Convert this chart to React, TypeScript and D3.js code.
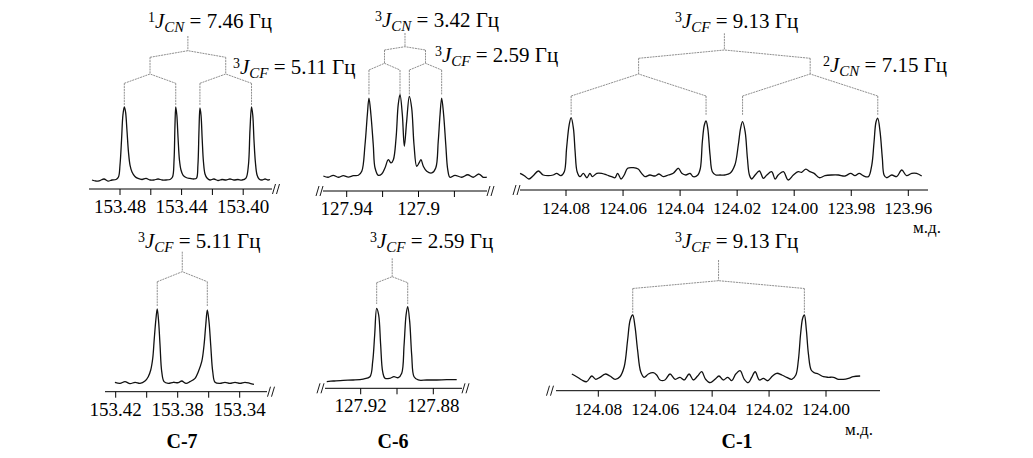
import React from "react";
import * as d3 from "d3";

// ---------------- DATA (ppm, relative intensity) ----------------
// Top row (coupled spectra)
const specC7coupled: [number, number][] = [
  [153.4982, 0], [153.4956, -1.4], [153.493, -0.7], [153.4904, 1.4], [153.4878, -1.4], [153.4852, 0], [153.4826, 0.7],
  [153.481, 4.1], [153.48, 20.5], [153.479, 54.8], [153.4781, 89], [153.4772, 100], [153.4764, 93.2], [153.4755, 68.5],
  [153.4745, 38.4], [153.4735, 20.5], [153.4722, 11], [153.4703, 4.8], [153.4683, 2.1], [153.4657, 0.7], [153.4631, 2.1],
  [153.4605, 0], [153.4579, 0], [153.4553, 1.4], [153.4527, 0], [153.4501, 0], [153.4475, 0.7], [153.4459, 4.1],
  [153.4449, 27.4], [153.4443, 75.3], [153.4438, 100], [153.4431, 89], [153.4423, 57.5], [153.4414, 27.4], [153.4404, 13.7],
  [153.4391, 6.8], [153.4371, 3.4], [153.4345, 2.1], [153.4319, 1.4], [153.4303, 2.7], [153.4294, 20.5], [153.4287, 68.5],
  [153.4281, 98.6], [153.4274, 89], [153.4266, 54.8], [153.4258, 24.7], [153.4248, 8.2], [153.4235, 2.7], [153.4216, 0],
  [153.419, 1.4], [153.4164, -0.7], [153.4138, 0.7], [153.4112, 0], [153.4086, 1.4], [153.406, 0], [153.4034, 0.7],
  [153.4008, 0], [153.3982, 2.7], [153.3966, 20.5], [153.3956, 68.5], [153.3946, 100], [153.3938, 89], [153.393, 54.8],
  [153.3921, 24.7], [153.391, 6.8], [153.3897, 1.4], [153.3878, 0], [153.3858, 1.4], [153.3839, 0], [153.3826, 0.7],
];
const specC6coupled: [number, number][] = [
  [127.953, 0], [127.9503, -1.6], [127.9475, 0.9], [127.9447, -1.6], [127.9419, 0.4], [127.9391, -1.3], [127.9363, 0.4],
  [127.9335, 0.9], [127.9316, 5.9], [127.9298, 39.6], [127.9285, 77.6], [127.9276, 98.7], [127.9265, 77.6], [127.9252, 39.6],
  [127.9242, 10.1], [127.9224, 0.9], [127.9205, 2.5], [127.9187, 10.1], [127.9168, 20.6], [127.9153, 16.5], [127.914, 20.6],
  [127.9125, 48.1], [127.9113, 90.3], [127.9103, 103], [127.909, 77.6], [127.9079, 37.6], [127.9066, 69.2], [127.9051, 100.9],
  [127.9038, 86.1], [127.9025, 39.6], [127.901, 12.3], [127.8997, 16.5], [127.8986, 20.6], [127.8973, 12.3], [127.8954, 6],
  [127.8926, 3.8], [127.8904, 10.1], [127.889, 43.9], [127.888, 77.6], [127.8871, 98.7], [127.886, 77.6], [127.8848, 39.6],
  [127.8837, 8], [127.8825, -1.6], [127.8797, 0.9], [127.8759, -1.6], [127.8726, 1.6], [127.8695, -1.6], [127.8663, 2.5],
  [127.8639, -1.6], [127.862, -1.6],
];
const specC1coupled: [number, number][] = [
  [124.0961, 2.9], [124.0946, -1.2], [124.093, -6.9], [124.0915, -1.2], [124.0897, 6.9], [124.088, 0], [124.0862, -1.2],
  [124.0845, 0], [124.0833, 2.9], [124.0818, -1.2], [124.0806, 5.7], [124.0798, 46], [124.0789, 86.2], [124.0782, 98.8],
  [124.0774, 80.5], [124.0768, 40.2], [124.0761, 5.7], [124.0751, -2.9], [124.0739, 2.9], [124.0727, -4.7], [124.0716, 2.9],
  [124.0708, -2.9], [124.0692, 2.9], [124.0675, 2.9], [124.0657, 0], [124.064, -2.9], [124.0628, -4.7], [124.0619, 2.9],
  [124.0607, -6.9], [124.0596, 0], [124.0584, 11.6], [124.0564, 12.6], [124.0547, 10.3], [124.0535, 2.9], [124.0523, -2.9],
  [124.0506, 0], [124.0488, -1.7], [124.0474, 1.7], [124.0459, -2.9], [124.0441, 0], [124.0424, 2.9], [124.0406, 11.6],
  [124.0394, 2.9], [124.038, 0], [124.0365, 2.9], [124.0354, -2.9], [124.0338, 0], [124.0329, 11.6], [124.0322, 57.4],
  [124.0315, 86.2], [124.0309, 93.1], [124.0303, 80.5], [124.0295, 34.5], [124.0287, 5.7], [124.0275, 0], [124.026, 0],
  [124.0243, 0], [124.0225, 2.9], [124.0208, 17.2], [124.0196, 51.7], [124.0188, 80.5], [124.0181, 91.9], [124.0172, 74.7],
  [124.0164, 28.9], [124.0157, 0], [124.0149, -6.9], [124.0137, 0], [124.0122, 6.9], [124.0108, -5.7], [124.0096, 0],
  [124.0079, 5.7], [124.0067, -6.9], [124.0056, 0], [124.0038, 5.7], [124.0021, -8.6], [124.0003, 0], [123.9986, 5.7],
  [123.9974, 4.7], [123.9959, 10.3], [123.9945, 5.7], [123.993, 2.9], [123.9912, -4.7], [123.9892, -1.2], [123.9869, 0],
  [123.9845, 0], [123.9822, -1.7], [123.9802, 2.9], [123.9787, -1.2], [123.9772, 2.9], [123.9758, -1.2], [123.974, -2.9],
  [123.9728, 17.2], [123.972, 57.4], [123.9713, 91.9], [123.9707, 97.8], [123.9699, 74.7], [123.9691, 28.9], [123.9685, 0],
  [123.9676, -4.7], [123.9658, 0], [123.9641, -2.9], [123.9623, 8.6], [123.9606, -1.2], [123.9588, 2.9], [123.9571, 2.9],
  [123.9553, -1.7],
];
// Bottom row (15N-decoupled spectra)
const specC7decoupled: [number, number][] = [
  [153.4205, 0.7], [153.4172, -0.7], [153.414, 1.5], [153.4108, -1.2], [153.4075, 0.7], [153.4043, -0.7], [153.4011, 2.4],
  [153.399, 8.2], [153.3974, 17.2], [153.3961, 32.9], [153.3951, 59.7], [153.394, 86.6], [153.3932, 99.1], [153.3923, 82],
  [153.3914, 50.7], [153.3903, 14.9], [153.3888, 1.5], [153.3861, -0.7], [153.3828, 0.7], [153.3796, 0.1], [153.3774, 2.4],
  [153.3746, -0.7], [153.3721, 1.5], [153.3688, 6], [153.3667, 14.9], [153.3645, 28.3], [153.363, 50.7], [153.3619, 77.6],
  [153.3609, 97.7], [153.3598, 82], [153.3587, 50.7], [153.3574, 14.9], [153.3559, 0.7], [153.3527, -0.7], [153.3495, 0.7],
  [153.3463, -0.7], [153.343, 0.7], [153.3398, -0.7], [153.3366, 0.7], [153.3334, -0.7], [153.3308, -2],
];
const specC6decoupled: [number, number][] = [
  [127.9387, -1.4], [127.9351, -0.7], [127.9296, 0.3], [127.9241, 0.7], [127.9186, 2], [127.9149, 5.1], [127.9134, 25.4],
  [127.9123, 61.5], [127.9112, 97.6], [127.9101, 88.5], [127.909, 48], [127.9079, 11.9], [127.9066, 3], [127.9039, 3],
  [127.9017, 5.1], [127.8993, 3.8], [127.8974, 9.7], [127.8961, 48], [127.895, 88.5], [127.8941, 99.7], [127.893, 79.5],
  [127.8919, 34.5], [127.8906, 5.1], [127.8883, 0.7], [127.8836, 0.7], [127.8781, 0.7], [127.8726, 1.1], [127.8671, 1.1],
];
const specC1decoupled: [number, number][] = [
  [124.0893, 4.8], [124.0876, 0.5], [124.0858, -4.8], [124.0841, -7.6], [124.0823, 1.6], [124.0809, -3.7], [124.0794, -0.5],
  [124.0776, 4.8], [124.0759, 1.6], [124.0741, -3.7], [124.0724, 0.5], [124.0709, 16.6], [124.0697, 59.7], [124.0688, 91.9],
  [124.0679, 100], [124.0671, 81.1], [124.0662, 43.5], [124.0651, 8.5], [124.0639, -0.5], [124.0624, 4.8], [124.0607, 6.9],
  [124.0595, 3.2], [124.0583, -4.8], [124.0566, -4.8], [124.0548, 4.8], [124.053, -3.7], [124.0513, -0.5], [124.0498, -4.8],
  [124.0481, 4.8], [124.0466, -4.8], [124.0451, 1.6], [124.0437, 8.5], [124.0423, -3.7], [124.0407, -9.2], [124.039, -3.7],
  [124.0376, 1.6], [124.0361, -4.8], [124.0345, -0.5], [124.0331, -6], [124.0317, 4.8], [124.0302, 10.2], [124.0287, -3.7],
  [124.0273, -9.2], [124.0261, -0.5], [124.0249, 8.5], [124.0234, -4.8], [124.022, -2.1], [124.0205, -6], [124.0188, 1.6],
  [124.0173, 6], [124.0155, 3.2], [124.0138, -0.5], [124.012, -3.7], [124.0106, 3.2], [124.0097, 27.4], [124.0089, 70.5],
  [124.0082, 94.7], [124.0076, 100], [124.0069, 75.8], [124.0062, 38.2], [124.0052, 11.3], [124.0041, 6.9], [124.0027, 4.8],
  [124.0009, 0.5], [123.9992, -0.5], [123.9974, -0.5], [123.9956, -3.7], [123.9939, -3.7], [123.9921, -2.1], [123.9904, 0.5],
  [123.988, 1.6],
];

// multiplet line positions (ppm)
const peaksC7coupled = [153.4772, 153.4438, 153.4281, 153.3946];
const peaksC6coupled = [127.9276, 127.9103, 127.9051, 127.8871];
const peaksC1coupled = [124.0782, 124.0309, 124.0181, 123.9707];
const peaksC7decoupled = [153.3932, 153.3609];
const peaksC6decoupled = [127.9112, 127.8941];
const peaksC1decoupled = [124.0679, 124.0076];

// axis ticks and labels
const ticksC7coupled = [153.48, 153.46, 153.44, 153.42, 153.4];
const tickLabelsC7coupled = ["153.48", "", "153.44", "", "153.40"];
const ticksC6coupled = [127.94, 127.92, 127.9, 127.88];
const tickLabelsC6coupled = ["127.94", "", "127.9", ""];
const ticksC1coupled = [124.08, 124.06, 124.04, 124.02, 124.0, 123.98, 123.96];
const tickLabelsC1coupled = ["124.08", "124.06", "124.04", "124.02", "124.00", "123.98", "123.96"];
const ticksC7decoupled = [153.42, 153.4, 153.38, 153.36, 153.34];
const tickLabelsC7decoupled = ["153.42", "", "153.38", "", "153.34"];
const ticksC6decoupled = [127.92, 127.9, 127.88];
const tickLabelsC6decoupled = ["127.92", "", "127.88"];
const ticksC1decoupled = [124.08, 124.06, 124.04, 124.02, 124.0];
const tickLabelsC1decoupled = ["124.08", "124.06", "124.04", "124.02", "124.00"];

// coupling constants: [superscript, subscript, value]
const couplingsC7coupled: [string, string, string][] = [["1", "CN", "7.46"], ["3", "CF", "5.11"]];
const couplingsC6coupled: [string, string, string][] = [["3", "CN", "3.42"], ["3", "CF", "2.59"]];
const couplingsC1coupled: [string, string, string][] = [["3", "CF", "9.13"], ["2", "CN", "7.15"]];
const couplingsC7decoupled: [string, string, string][] = [["3", "CF", "5.11"]];
const couplingsC6decoupled: [string, string, string][] = [["3", "CF", "2.59"]];
const couplingsC1decoupled: [string, string, string][] = [["3", "CF", "9.13"]];

const carbonNames = ["C-7", "C-6", "C-1"];
const unitLabel = "м.д.";
const hzUnit = "Гц";

// ---------------- LAYOUT ----------------
const SERIF = "'Liberation Serif', 'Times New Roman', Times, serif";

type Panel = {
  spec: [number, number][];
  peaks: number[];
  dom: [number, number];
  rng: [number, number];
  yBase: number;
  yTop: number;
  axis: { x0: number; x1: number; y: number };
  ticks: number[];
  tickLabels: string[];
  tickFont: number;
  breaks: number[];
  tree: number[]; // y levels
  couplings: [string, string, string][];
  labelPos: [number, number][];
};

const panels: Panel[] = [
  {
    spec: specC7coupled, peaks: peaksC7coupled, dom: [153.48, 153.4], rng: [120, 243.2], yBase: 180, yTop: 107,
    axis: { x0: 89, x1: 272, y: 189 }, ticks: ticksC7coupled, tickLabels: tickLabelsC7coupled, tickFont: 19, breaks: [276],
    tree: [36, 50.7, 57.3, 74, 83.3, 105], couplings: couplingsC7coupled, labelPos: [[148, 28], [233, 74]],
  },
  {
    spec: specC6coupled, peaks: peaksC6coupled, dom: [127.94, 127.88], rng: [346.7, 454.4], yBase: 176, yTop: 97,
    axis: { x0: 323, x1: 487, y: 191 }, ticks: ticksC6coupled, tickLabels: tickLabelsC6coupled, tickFont: 19, breaks: [319.5, 490.5],
    tree: [33, 46.7, 50, 63.3, 70, 95], couplings: couplingsC6coupled, labelPos: [[375, 27], [435, 62]],
  },
  {
    spec: specC1coupled, peaks: peaksC1coupled, dom: [124.08, 123.96], rng: [566, 908.3], yBase: 175, yTop: 117,
    axis: { x0: 520, x1: 928, y: 190 }, ticks: ticksC1coupled, tickLabels: tickLabelsC1coupled, tickFont: 17.5, breaks: [516.5],
    tree: [33.3, 50, 58.3, 74, 96, 115], couplings: couplingsC1coupled, labelPos: [[675, 28], [823, 71.5]],
  },
  {
    spec: specC7decoupled, peaks: peaksC7decoupled, dom: [153.42, 153.34], rng: [115.7, 239.7], yBase: 382.8, yTop: 308.3,
    axis: { x0: 105, x1: 267, y: 391.7 }, ticks: ticksC7decoupled, tickLabels: tickLabelsC7decoupled, tickFont: 19, breaks: [271],
    tree: [251.7, 271.7, 281.7, 306], couplings: couplingsC7decoupled, labelPos: [[138, 248]],
  },
  {
    spec: specC6decoupled, peaks: peaksC6decoupled, dom: [127.92, 127.88], rng: [360.7, 433.3], yBase: 380.5, yTop: 306.5,
    axis: { x0: 325, x1: 462, y: 388.3 }, ticks: ticksC6decoupled, tickLabels: tickLabelsC6decoupled, tickFont: 19, breaks: [320.5, 465.5],
    tree: [258.3, 276.7, 282.7, 304], couplings: couplingsC6decoupled, labelPos: [[370, 248]],
  },
  {
    spec: specC1decoupled, peaks: peaksC1decoupled, dom: [124.08, 124.0], rng: [598.3, 826], yBase: 377, yTop: 315,
    axis: { x0: 556, x1: 880, y: 390.7 }, ticks: ticksC1decoupled, tickLabels: tickLabelsC1decoupled, tickFont: 17.5, breaks: [550],
    tree: [260, 280.7, 288.5, 313], couplings: couplingsC1decoupled, labelPos: [[675, 248]],
  },
];

const TREE_STROKE = "#8f8f8f";

function Coupling({ x, y, c }: { x: number; y: number; c: [string, string, string] }) {
  return (
    <text x={x} y={y} fontFamily={SERIF} fontSize={21} fill="#000">
      <tspan fontSize={14} dy={-6}>{c[0]}</tspan>
      <tspan fontStyle="italic" dy={6}>J</tspan>
      <tspan fontStyle="italic" fontSize={15} dy={4}>{c[1]}</tspan>
      <tspan dy={-4}>{` = ${c[2]} ${hzUnit}`}</tspan>
    </text>
  );
}

function Tree({ p, x }: { p: Panel; x: (v: number) => number }) {
  const t = p.tree;
  const segs: string[] = [];
  const L = d3.line();
  if (p.peaks.length === 4) {
    const s1 = (p.peaks[0] + p.peaks[1]) / 2;
    const s2 = (p.peaks[2] + p.peaks[3]) / 2;
    const r = (s1 + s2) / 2;
    segs.push(L([[x(r), t[0]], [x(r), t[1]]])!);
    segs.push(L([[x(s1), t[2]], [x(r), t[1]], [x(s2), t[2]]])!);
    [[s1, 0, 1], [s2, 2, 3]].forEach(([s, a, b]) => {
      segs.push(L([[x(s), t[2]], [x(s), t[3]]])!);
      segs.push(L([[x(p.peaks[a]), t[4]], [x(s), t[3]], [x(p.peaks[b]), t[4]]])!);
      segs.push(L([[x(p.peaks[a]), t[4]], [x(p.peaks[a]), t[5]]])!);
      segs.push(L([[x(p.peaks[b]), t[4]], [x(p.peaks[b]), t[5]]])!);
    });
  } else {
    const r = (p.peaks[0] + p.peaks[1]) / 2;
    segs.push(L([[x(r), t[0]], [x(r), t[1]]])!);
    segs.push(L([[x(p.peaks[0]), t[2]], [x(r), t[1]], [x(p.peaks[1]), t[2]]])!);
    p.peaks.forEach((pk) => segs.push(L([[x(pk), t[2]], [x(pk), t[3]]])!));
  }
  return (
    <g fill="none" stroke={TREE_STROKE} strokeWidth={1} strokeDasharray="2 0.8">
      {segs.map((d, i) => <path key={i} d={d} />)}
    </g>
  );
}

function BreakMark({ cx, cy }: { cx: number; cy: number }) {
  return (
    <g stroke="#000" strokeWidth={0.9}>
      <line x1={cx - 3.5} y1={cy + 5} x2={cx - 0.5} y2={cy - 5} />
      <line x1={cx + 0.5} y1={cy + 5} x2={cx + 3.5} y2={cy - 5} />
    </g>
  );
}

function SpectrumPanel({ p }: { p: Panel }) {
  const x = d3.scaleLinear().domain(p.dom).range(p.rng);
  const y = d3.scaleLinear().domain([0, 100]).range([p.yBase, p.yTop]);
  const line = d3
    .line<[number, number]>()
    .x((d) => x(d[0]))
    .y((d) => y(d[1]))
    .curve(d3.curveCatmullRom.alpha(0.5));
  return (
    <g>
      <Tree p={p} x={x} />
      <path d={line(p.spec)!} fill="none" stroke="#111" strokeWidth={1.3} strokeLinejoin="round" />
      <line x1={p.axis.x0} x2={p.axis.x1} y1={p.axis.y} y2={p.axis.y} stroke="#000" strokeWidth={1} />
      {p.ticks.map((v, i) => (
        <g key={i}>
          <line x1={x(v)} x2={x(v)} y1={p.axis.y} y2={p.axis.y + 6} stroke="#000" strokeWidth={1} />
          {p.tickLabels[i] && (
            <text x={x(v)} y={p.axis.y + 24} textAnchor="middle" fontFamily={SERIF} fontSize={p.tickFont} fill="#000">
              {p.tickLabels[i]}
            </text>
          )}
        </g>
      ))}
      {p.breaks.map((b, i) => <BreakMark key={i} cx={b} cy={p.axis.y} />)}
      {p.couplings.map((c, i) => (
        <Coupling key={i} x={p.labelPos[i][0]} y={p.labelPos[i][1]} c={c} />
      ))}
    </g>
  );
}

export default function App() {
  return (
    <svg
      width={1033}
      height={458}
      viewBox="0 0 1033 458"
      style={{ position: "absolute", left: 0, top: 0, background: "#fff" }}
    >
      <rect width={1033} height={458} fill="#fff" />
      {panels.map((p, i) => <SpectrumPanel key={i} p={p} />)}
      <text x={913} y={233} fontFamily={SERIF} fontSize={17} fill="#000">{unitLabel}</text>
      <text x={845} y={435} fontFamily={SERIF} fontSize={17} fill="#000">{unitLabel}</text>
      {[182, 393, 737].map((cx, i) => (
        <text key={i} x={cx} y={448} textAnchor="middle" fontFamily={SERIF} fontSize={20} fontWeight="bold" fill="#000">
          {carbonNames[i]}
        </text>
      ))}
    </svg>
  );
}
